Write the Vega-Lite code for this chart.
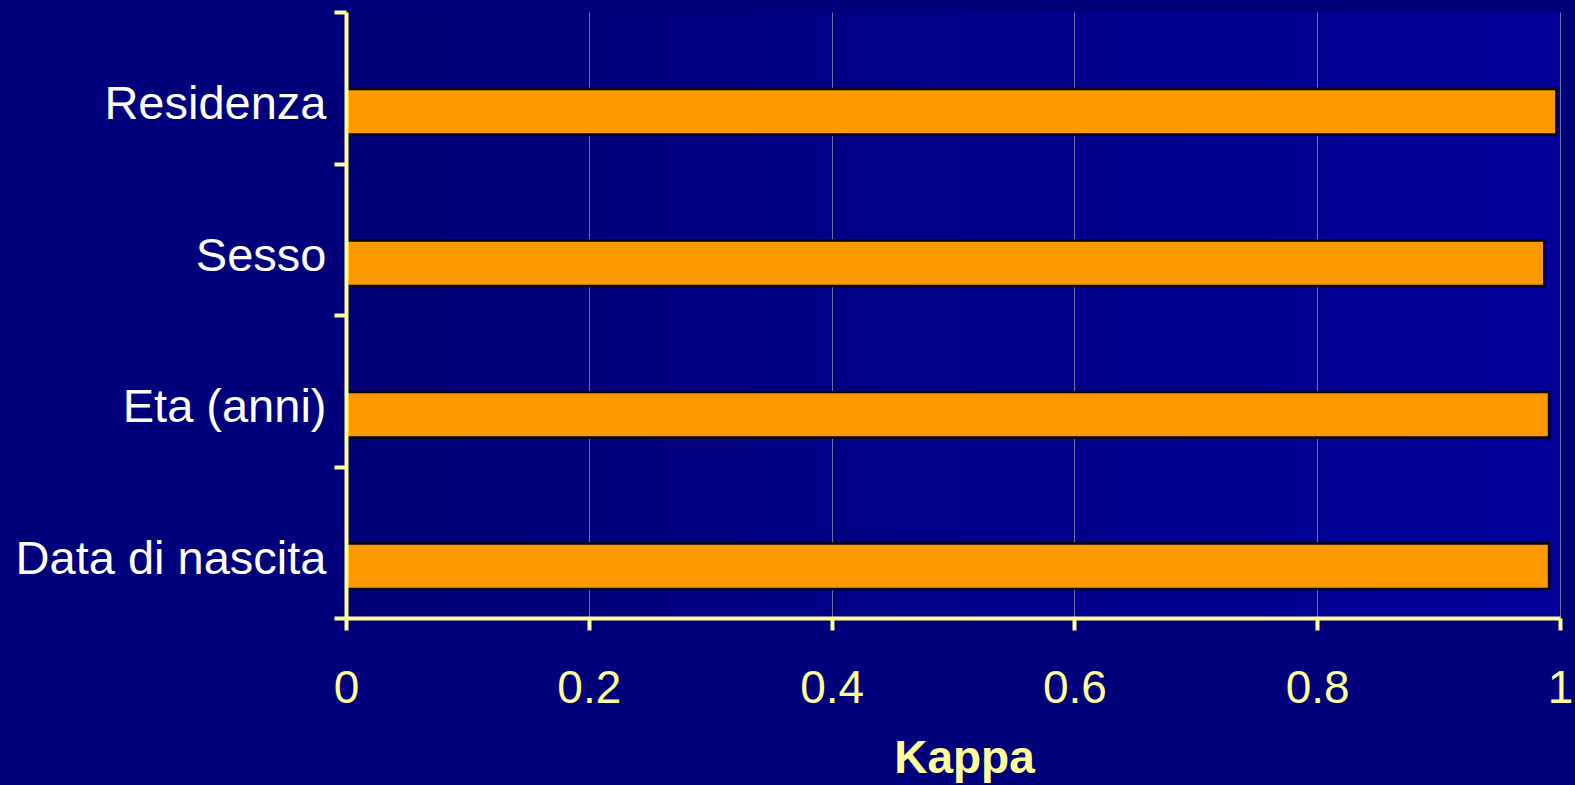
{
  "$schema": "https://vega.github.io/schema/vega-lite/v6.json",
  "width": 1214,
  "height": 606,
  "autosize": {"type": "none"},
  "padding": {"left": 346, "top": 12, "right": 15, "bottom": 167},
  "background": "#00007a",
  "config": {
    "font": "Liberation Sans",
    "view": {
      "stroke": null,
      "fill": {
        "gradient": "linear",
        "x1": 0, "y1": 0, "x2": 1, "y2": 0,
        "stops": [
          {"offset": 0, "color": "#000077"},
          {"offset": 1, "color": "#000098"}
        ]
      }
    }
  },
  "data": {
    "values": [
      {"voce": "Residenza", "kappa": 0.997},
      {"voce": "Sesso", "kappa": 0.987},
      {"voce": "Eta (anni)", "kappa": 0.991},
      {"voce": "Data di nascita", "kappa": 0.991}
    ]
  },
  "mark": {
    "type": "bar",
    "color": "#ff9900",
    "stroke": "#000000",
    "strokeWidth": 2.5,
    "height": {"band": 0.3},
    "yOffset": 24
  },
  "encoding": {
    "y": {
      "field": "voce",
      "type": "nominal",
      "sort": null,
      "scale": {"paddingInner": 0, "paddingOuter": 0},
      "axis": {
        "title": null,
        "zindex": 1,
        "grid": false,
        "domainColor": "#ffff99",
        "domainWidth": 4,
        "tickColor": "#ffff99",
        "tickWidth": 4,
        "tickSize": 12,
        "tickBand": "extent",
        "labelColor": "#ffffff",
        "labelFontSize": 47,
        "labelLimit": 0,
        "labelPadding": 8,
        "labelOffset": 17,
        "labelBaseline": "middle"
      }
    },
    "x": {
      "field": "kappa",
      "type": "quantitative",
      "scale": {"domain": [0, 1], "nice": false},
      "axis": {
        "values": [0, 0.2, 0.4, 0.6, 0.8, 1],
        "format": "~g",
        "zindex": 0,
        "grid": true,
        "gridColor": "#7070a8",
        "gridWidth": 1,
        "domainColor": "#ffff99",
        "domainWidth": 4,
        "tickColor": "#ffff99",
        "tickWidth": 4,
        "tickSize": 12,
        "labelColor": "#ffff99",
        "labelFontSize": 46,
        "labelPadding": 36,
        "labelFlush": false,
        "title": "Kappa",
        "titleColor": "#ffff99",
        "titleFontSize": 46,
        "titleFontWeight": "bold",
        "titleBaseline": "alphabetic",
        "titleX": 618,
        "titleY": 154
      }
    }
  }
}
